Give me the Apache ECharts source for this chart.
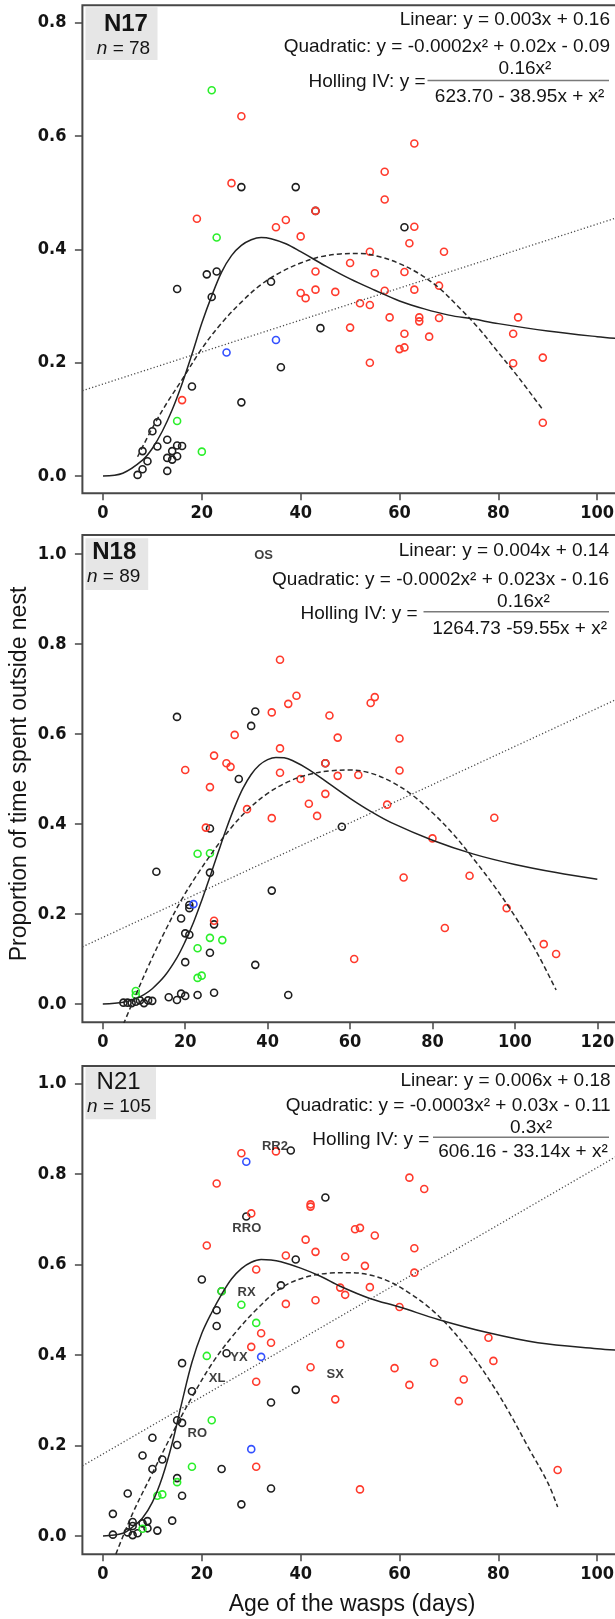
<!DOCTYPE html>
<html><head><meta charset="utf-8">
<script src="https://cdn.jsdelivr.net/npm/echarts@6/dist/echarts.min.js"></script>
<style>html,body{margin:0;padding:0;background:#fff}#c{width:615px;height:1619px}</style>
</head><body><div id="c"></div>
<script>
// ---------------- DATA ----------------
const xTicks17 = [0, 20, 40, 60, 80, 100];
const xTicks18 = [0, 20, 40, 60, 80, 100, 120];
const xTicks21 = [0, 20, 40, 60, 80, 100];
const yTicks17 = [0, 0.2, 0.4, 0.6, 0.8];
const yTicks18 = [0, 0.2, 0.4, 0.6, 0.8, 1.0];
const yTicks21 = [0, 0.2, 0.4, 0.6, 0.8, 1.0];

const panelNames = ['N17', 'N18', 'N21'];
const panelN = ['78', '89', '105'];

const n17Black = [[28,0.51],[39,0.51],[43,0.468],[21,0.356],[23,0.361],[34,0.343],[15,0.33],[22,0.316],[44,0.261],[36,0.192],[18,0.158],[28,0.13],[11,0.095],[10,0.079],[13,0.064],[11,0.052],[15,0.054],[16,0.053],[14,0.044],[13,0.032],[15,0.035],[14,0.029],[8,0.044],[9,0.026],[8,0.012],[7,0.002],[13,0.009],[61,0.439]];
const n17Red = [[28,0.635],[26,0.517],[43,0.468],[19,0.454],[37,0.452],[35,0.439],[40,0.423],[50,0.376],[43,0.361],[40,0.323],[41,0.314],[43,0.329],[47,0.325],[50,0.262],[16,0.134],[63,0.587],[57,0.537],[57,0.488],[63,0.44],[62,0.411],[69,0.396],[54,0.396],[55,0.358],[61,0.36],[63,0.329],[68,0.336],[57,0.327],[52,0.305],[54,0.302],[58,0.28],[64,0.28],[64,0.273],[68,0.279],[84,0.28],[61,0.251],[66,0.246],[83,0.251],[60,0.224],[61,0.227],[54,0.2],[89,0.209],[83,0.199],[89,0.094]];
const n17Green = [[22,0.681],[23,0.421],[15,0.097],[20,0.043]];
const n17Blue = [[35,0.24],[25,0.218]];
const n17Holling = [[0,0],[4,0.005],[8,0.028],[10,0.049],[12,0.079],[14,0.117],[16,0.163],[18,0.215],[20,0.27],[22,0.318],[24,0.36],[26,0.389],[28,0.407],[30,0.417],[32,0.421],[34,0.419],[37,0.41],[40,0.396],[45,0.371],[50,0.348],[55,0.328],[60,0.309],[65,0.295],[70,0.284],[75,0.277],[80,0.269],[90,0.256],[100,0.246],[105,0.242]];
const n17Quad = [[7,0.034],[10,0.085],[13,0.13],[16,0.17],[20,0.225],[24,0.27],[28,0.307],[32,0.338],[36,0.36],[40,0.376],[44,0.387],[48,0.392],[52,0.393],[56,0.387],[60,0.375],[64,0.357],[68,0.332],[72,0.298],[76,0.261],[80,0.218],[84,0.175],[89,0.117]];
const n17Linear = [[-4.17,0.1506],[104.7,0.458]];

const n18Black = [[18,0.638],[37,0.65],[36,0.618],[54,0.535],[33,0.5],[58,0.394],[26,0.39],[13,0.294],[26,0.292],[41,0.252],[21,0.22],[21,0.213],[19,0.19],[27,0.177],[20,0.157],[21,0.154],[26,0.114],[20,0.093],[37,0.087],[27,0.025],[23,0.02],[19,0.023],[20,0.018],[16,0.015],[18,0.009],[45,0.02],[5,0.003],[6,0.003],[7,0.002],[8,0.005],[9,0.008],[10,0.002],[11,0.008],[12,0.007]];
const n18Red = [[43,0.765],[47,0.685],[45,0.667],[41,0.648],[55,0.641],[32,0.598],[57,0.592],[43,0.568],[27,0.552],[30,0.535],[31,0.527],[20,0.52],[54,0.535],[43,0.514],[57,0.507],[62,0.509],[26,0.482],[48,0.5],[54,0.467],[50,0.445],[52,0.418],[35,0.433],[41,0.413],[25,0.392],[27,0.185],[66,0.682],[65,0.669],[72,0.59],[72,0.519],[69,0.443],[95,0.414],[80,0.368],[73,0.281],[89,0.285],[98,0.213],[83,0.169],[107,0.133],[110,0.111],[61,0.1]];
const n18Green = [[23,0.334],[26,0.335],[26,0.147],[29,0.142],[23,0.124],[24,0.063],[23,0.058],[8,0.029],[8,0.02]];
const n18Blue = [[22,0.222]];
const n18Holling = [[0,0],[5,0.004],[8,0.012],[10,0.021],[12,0.034],[15,0.062],[18,0.103],[20,0.139],[22,0.181],[24,0.23],[26,0.283],[28,0.337],[30,0.39],[32,0.438],[34,0.479],[36,0.51],[38,0.531],[40,0.543],[42,0.548],[44,0.547],[46,0.541],[50,0.521],[55,0.489],[60,0.457],[65,0.428],[70,0.403],[80,0.364],[90,0.333],[100,0.31],[110,0.292],[120,0.277]];
const n18Quad = [[5,-0.045],[8,0.02],[11,0.083],[15,0.16],[19,0.23],[23,0.289],[27,0.342],[31,0.39],[35,0.43],[40,0.468],[45,0.494],[50,0.51],[55,0.518],[60,0.52],[65,0.513],[70,0.494],[75,0.465],[80,0.425],[85,0.378],[90,0.322],[95,0.262],[100,0.195],[105,0.12],[110,0.031]];
const n18Linear = [[-4.95,0.127],[125.6,0.681]];
const n18Tags = [['OS',39,0.996]];

const n21Black = [[38,0.852],[45,0.748],[29,0.706],[39,0.611],[20,0.567],[24,0.541],[36,0.554],[23,0.499],[23,0.464],[25,0.404],[16,0.382],[39,0.323],[18,0.32],[34,0.295],[15,0.256],[16,0.25],[10,0.217],[15,0.201],[8,0.178],[12,0.169],[10,0.148],[24,0.148],[15,0.128],[34,0.105],[5,0.094],[16,0.089],[28,0.07],[2,0.049],[6,0.031],[9,0.033],[14,0.034],[9,0.017],[11,0.012],[2,0.003],[5,0.008],[6,0.002],[7,0.006],[6,0.022],[8,0.028]];
const n21Red = [[28,0.846],[35,0.85],[23,0.779],[42,0.733],[42,0.728],[30,0.713],[41,0.655],[21,0.642],[43,0.628],[37,0.62],[49,0.617],[31,0.589],[48,0.549],[49,0.533],[37,0.513],[43,0.521],[32,0.448],[34,0.427],[30,0.418],[48,0.424],[42,0.373],[31,0.341],[47,0.302],[31,0.153],[62,0.792],[65,0.767],[51,0.678],[52,0.681],[55,0.664],[63,0.636],[53,0.597],[63,0.582],[54,0.55],[60,0.506],[78,0.438],[79,0.387],[67,0.383],[59,0.371],[73,0.346],[62,0.334],[72,0.298],[52,0.103],[92,0.146]];
const n21Green = [[24,0.541],[28,0.511],[31,0.471],[21,0.398],[22,0.256],[18,0.153],[15,0.119],[11,0.089],[12,0.092],[8,0.016]];
const n21Blue = [[29,0.827],[32,0.396],[30,0.192]];
const n21Holling = [[0,0],[4,0.006],[6,0.02],[8,0.04],[10,0.075],[12,0.13],[14,0.205],[16,0.297],[18,0.384],[20,0.448],[22,0.494],[24,0.534],[26,0.568],[28,0.591],[30,0.605],[32,0.611],[34,0.61],[36,0.606],[40,0.592],[44,0.574],[48,0.552],[54,0.525],[60,0.506],[68,0.478],[78,0.449],[88,0.427],[100,0.414],[106,0.409]];
const n21Quad = [[2.6,-0.04],[6,0.05],[10,0.139],[14,0.226],[18,0.307],[22,0.38],[26,0.439],[31,0.5],[36,0.548],[41,0.572],[46,0.581],[50,0.582],[54,0.577],[58,0.562],[62,0.537],[66,0.505],[70,0.463],[74,0.41],[78,0.348],[82,0.277],[86,0.197],[90,0.118],[92,0.064]];
const n21Linear = [[-4.17,0.155],[104.7,0.844]];
const n21Tags = [['RR2',34.8,0.862],['RRO',29.1,0.68],['RX',29.05,0.538],['YX',27.5,0.395],['XL',23.1,0.348],['RO',19.07,0.226],['SX',47.0,0.358]];

const eqLinear = ['Linear: y = 0.003x + 0.16', 'Linear: y = 0.004x + 0.14', 'Linear: y = 0.006x + 0.18'];
const eqQuad = ['Quadratic: y = -0.0002x\u00b2 + 0.02x - 0.09', 'Quadratic: y = -0.0002x\u00b2 + 0.023x - 0.16', 'Quadratic: y = -0.0003x\u00b2 + 0.03x - 0.11'];
const eqHollNum = ['0.16x\u00b2', '0.16x\u00b2', '0.3x\u00b2'];
const eqHollDen = ['623.70 - 38.95x + x\u00b2', '1264.73 -59.55x + x\u00b2', '606.16 - 33.14x + x\u00b2'];
const xTitle = 'Age of the wasps (days)';
const yTitle = 'Proportion of time spent outside nest';

// ---------------- STYLE / LAYOUT ----------------
const SANS = "'Liberation Sans', Arial, Helvetica, sans-serif";
const NARROW = "'Liberation Sans Narrow', 'Arial Narrow', 'DejaVu Sans Condensed', sans-serif";
const INK = '#141414';
const COL = {black: '#1e1e1e', red: '#ff3a2c', green: '#2bef2b', blue: '#3350ff'};

const layout = [
  {top: 5.3, height: 488, xMin: -4.17, xMax: 104.7, yMin: -0.0305, yMax: 0.8309, xt: xTicks17, yt: yTicks17},
  {top: 535, height: 487.3, xMin: -4.95, xMax: 125.6, yMin: -0.0407, yMax: 1.0422, xt: xTicks18, yt: yTicks18},
  {top: 1066, height: 488.3, xMin: -4.17, xMax: 104.7, yMin: -0.0404, yMax: 1.0387, xt: xTicks21, yt: yTicks21}
];
const panelData = [
  {black: n17Black, red: n17Red, green: n17Green, blue: n17Blue, hol: n17Holling, quad: n17Quad, lin: n17Linear, tags: []},
  {black: n18Black, red: n18Red, green: n18Green, blue: n18Blue, hol: n18Holling, quad: n18Quad, lin: n18Linear, tags: n18Tags},
  {black: n21Black, red: n21Red, green: n21Green, blue: n21Blue, hol: n21Holling, quad: n21Quad, lin: n21Linear, tags: n21Tags}
];
const eqPos = [
  {right: 610, yL: 19.3, yQ: 46.7, hx: 425.5, hy: 81.7, lx1: 427.5, lx2: 609, ly: 80.5, nx: 525, ny: 68.3, dx: 519.6, dy: 96.7},
  {right: 609, yL: 550.7, yQ: 580, hx: 417.6, hy: 613.3, lx1: 423.5, lx2: 609, ly: 611.7, nx: 523.5, ny: 601.7, dx: 519.6, dy: 628.3},
  {right: 610.6, yL: 1080.7, yQ: 1106, hx: 429.4, hy: 1140, lx1: 433, lx2: 609, ly: 1137.3, nx: 531, ny: 1127.3, dx: 523, dy: 1151.7}
];
const boxPos = [
  {x: 85.5, y: 7.3, w: 72, h: 52.7, tx: 125.9, ty: 24, nx: 123.5, ny: 48.3, bold: true},
  {x: 85.5, y: 538.3, w: 62.7, h: 51.7, tx: 114.3, ty: 552.7, nx: 113.7, ny: 576.7, bold: true},
  {x: 85.5, y: 1067.3, w: 70.5, h: 52, tx: 118.6, ty: 1082.7, nx: 119, ny: 1106.7, bold: false}
];

const grids = [], xAxes = [], yAxes = [], series = [], graphics = [];

function txt(x, y, text, font, align, extra) {
  return Object.assign({
    type: 'text', x: x, y: y, z: 50,
    style: {text: text, font: font, fill: INK, align: align, verticalAlign: 'middle', textAlign: align, textVerticalAlign: 'middle'}
  }, extra || {});
}

layout.forEach((L, i) => {
  grids.push({left: 82.4, top: L.top, width: 538, height: L.height, show: true, borderColor: '#474747', borderWidth: 2, backgroundColor: 'transparent', outerBoundsMode: 'none', containLabel: false});
  xAxes.push({
    type: 'value', gridIndex: i, min: L.xMin, max: L.xMax, position: 'bottom',
    axisLine: {show: false, onZero: false}, splitLine: {show: false},
    axisTick: {show: true, length: 7, lineStyle: {color: '#474747', width: 1.5}, customValues: L.xt},
    axisLabel: {customValues: L.xt, margin: 11, color: INK, fontWeight: 'bold', fontSize: 18, fontFamily: NARROW, formatter: v => String(Math.round(v))}
  });
  yAxes.push({
    type: 'value', gridIndex: i, min: L.yMin, max: L.yMax, position: 'left',
    axisLine: {show: false, onZero: false}, splitLine: {show: false},
    axisTick: {show: true, length: 7.5, lineStyle: {color: '#474747', width: 1.5}, customValues: L.yt},
    axisLabel: {customValues: L.yt, margin: 16, color: INK, fontWeight: 'bold', fontSize: 18, fontFamily: NARROW, formatter: v => v.toFixed(1)}
  });
  const D = panelData[i];
  [['black', D.black], ['red', D.red], ['green', D.green], ['blue', D.blue]].forEach(([c, arr]) => {
    series.push({
      type: 'scatter', xAxisIndex: i, yAxisIndex: i, data: arr, symbol: 'circle', symbolSize: 7, silent: true, z: 3,
      itemStyle: {color: 'rgba(255,255,255,0)', borderColor: COL[c], borderWidth: 1.6, opacity: 1}
    });
  });
  series.push({type: 'line', xAxisIndex: i, yAxisIndex: i, data: D.lin, symbol: 'none', showSymbol: false, silent: true, z: 4, clip: true,
    lineStyle: {color: '#4a4a4a', width: 1.3, type: [1.2, 2.2]}});
  series.push({type: 'line', xAxisIndex: i, yAxisIndex: i, data: D.quad, symbol: 'none', showSymbol: false, smooth: 0.35, silent: true, z: 4, clip: true,
    lineStyle: {color: '#2a2a2a', width: 1.5, type: [5, 3]}});
  series.push({type: 'line', xAxisIndex: i, yAxisIndex: i, data: D.hol, symbol: 'none', showSymbol: false, smooth: 0.35, silent: true, z: 4, clip: true,
    lineStyle: {color: '#222', width: 1.5, type: 'solid'}});
  if (D.tags.length) {
    series.push({type: 'scatter', xAxisIndex: i, yAxisIndex: i, symbolSize: 0, silent: true, z: 5,
      data: D.tags.map(t => ({name: t[0], value: [t[1], t[2]]})),
      label: {show: true, position: 'inside', formatter: p => p.name, color: '#0d0d0d', fontWeight: 'bold', fontSize: 13, fontFamily: SANS}
    });
  }
  const B = boxPos[i];
  graphics.push({type: 'rect', shape: {x: B.x, y: B.y, width: B.w, height: B.h}, style: {fill: '#e6e6e6'}, z: 1});
  graphics.push(txt(B.tx, B.ty, panelNames[i], (B.bold ? 'bold ' : '') + '24px ' + SANS, 'center'));
  graphics.push({type: 'text', x: B.nx, y: B.ny, z: 50, style: {text: '{i|n} = ' + panelN[i], font: '19px ' + SANS, fill: INK,
    align: 'center', verticalAlign: 'middle', textAlign: 'center', textVerticalAlign: 'middle',
    rich: {i: {fontStyle: 'italic', fontSize: 19, fontFamily: SANS, fill: INK, color: INK}}}});
  const E = eqPos[i];
  const F = '19px ' + SANS;
  graphics.push(txt(E.right, E.yL, eqLinear[i], F, 'right'));
  graphics.push(txt(E.right, E.yQ, eqQuad[i], F, 'right'));
  graphics.push(txt(E.hx, E.hy, 'Holling IV: y =', F, 'right'));
  graphics.push({type: 'line', z: 50, shape: {x1: E.lx1, y1: E.ly, x2: E.lx2, y2: E.ly}, style: {stroke: '#7a7a7a', lineWidth: 1.6}});
  graphics.push(txt(E.nx, E.ny, eqHollNum[i], F, 'center'));
  graphics.push(txt(E.dx, E.dy, eqHollDen[i], F, 'center'));
});

graphics.push(txt(352, 1605, xTitle, '23px ' + SANS, 'center'));
graphics.push(txt(20, 774, yTitle, '23px ' + SANS, 'center', {rotation: Math.PI / 2}));

const chart = echarts.init(document.getElementById('c'), null, {renderer: 'canvas', width: 615, height: 1619});
chart.setOption({
  animation: false,
  backgroundColor: '#ffffff',
  grid: grids, xAxis: xAxes, yAxis: yAxes, series: series,
  graphic: {elements: graphics},
  tooltip: {show: false}
});
</script></body></html>
